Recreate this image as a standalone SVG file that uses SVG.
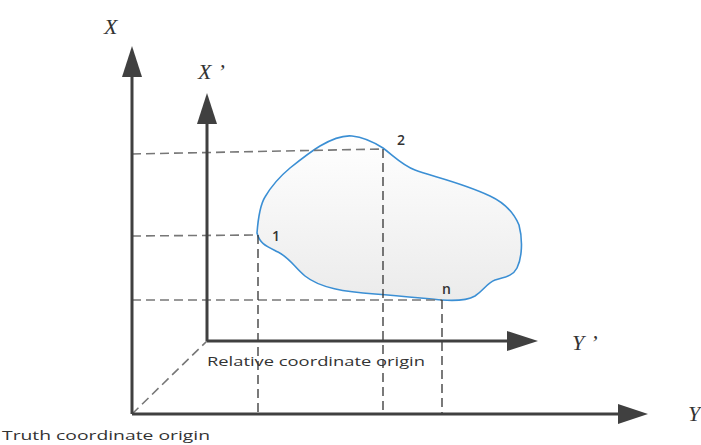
<svg xmlns="http://www.w3.org/2000/svg" width="701" height="445" viewBox="0 0 701 445">
<defs>
<linearGradient id="g" x1="0" y1="0" x2="0" y2="1">
<stop offset="0" stop-color="#ffffff"/>
<stop offset="1" stop-color="#ebebeb"/>
</linearGradient>
<style>
.axis{stroke:#404040;stroke-width:3;fill:none}
.head{fill:#404040}
.hd{stroke:#777;stroke-width:1.6;stroke-dasharray:9,5;fill:none}
.vd{stroke:#333;stroke-width:1.3;stroke-dasharray:9,5;fill:none}
.lab{font-family:"Liberation Serif",serif;font-style:italic;fill:#333;font-size:22px}
.num{font-family:"Open Sans","Liberation Sans",sans-serif;fill:#333;font-size:14px;font-weight:600}
.cap{font-family:"Open Sans","Liberation Sans",sans-serif;fill:#333;font-size:13px}
</style>
</defs>
<rect width="701" height="445" fill="#fff"/>
<g id="region">
<path d="M257 233 C258 220 260 205 265 197 C272 185 278 178 290 168 C300 160 310 152 320 146 C332 139 342 135 352 136 C362 137 372 141 383 148 C395 157 402 165 415 170 C430 176 460 182 490 196 C505 203 514 213 519 225 C523 240 522 258 517 268 C513 276 505 277 495 280 C487 283 484 290 475 296 C466 301 455 301 442 300 C420 298 400 296 375 294 C345 292 320 288 305 276 C295 268 290 258 278 252 C266 246 260 244 257 233 Z" fill="url(#g)" stroke="#3b8fd4" stroke-width="1.6"/>
</g>
<g id="guides">
<path class="hd" d="M132 154 L383 149"/>
<path class="hd" d="M132 236 L257 235"/>
<path class="hd" d="M132 300 L442 300"/>
<path class="vd" d="M258 235 L258 414"/>
<path class="vd" d="M383 149 L383 414"/>
<path class="vd" d="M442 300 L442 414"/>
<path class="hd" d="M132 414 L207 341"/>
</g>
<g id="axes">
<path class="axis" d="M132 414 L132 75 M132 414 L620 414"/>
<path class="head" d="M132 46 L122 77 L142 77 Z"/>
<path class="head" d="M648 414 L618 404 L618 424 Z"/>
<path class="axis" d="M207 341 L207 122 M207 341 L509 341"/>
<path class="head" d="M207 93 L197 124 L217 124 Z"/>
<path class="head" d="M538 341 L507 331 L507 351 Z"/>
</g>
<g id="labels">
<text class="lab" x="104" y="34">X</text>
<text class="lab" x="198" y="79">X<tspan dx="6">’</tspan></text>
<text class="lab" x="572" y="350">Y<tspan dx="6">’</tspan></text>
<text class="lab" x="688" y="421">Y</text>
<text class="num" x="272" y="241">1</text>
<text class="num" x="397" y="145">2</text>
<text class="num" x="442" y="294">n</text>
<text class="cap" x="207" y="366" textLength="218" lengthAdjust="spacingAndGlyphs">Relative coordinate origin</text>
<text class="cap" x="2" y="440" textLength="208" lengthAdjust="spacingAndGlyphs">Truth coordinate origin</text>
</g>
</svg>
